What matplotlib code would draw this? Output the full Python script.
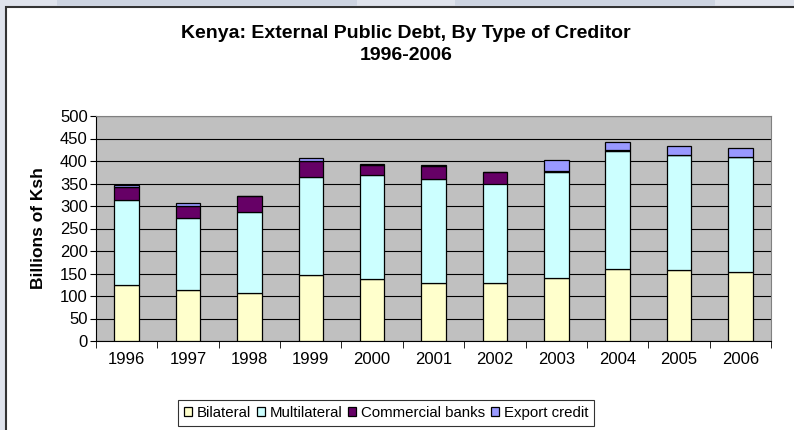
import matplotlib
matplotlib.use("Agg")
import matplotlib.pyplot as plt
import numpy as np
from matplotlib.patches import Rectangle

plt.rcParams['font.family'] = ['Liberation Sans', 'DejaVu Sans']

years = ["1996", "1997", "1998", "1999", "2000", "2001",
         "2002", "2003", "2004", "2005", "2006"]
bilateral = [125, 114, 107, 146, 137, 130, 128, 140, 160, 157, 154]
multilateral = [188, 160, 179, 219, 231, 229, 222, 235, 262, 256, 256]
commercial = [30, 26, 36, 35, 24, 31, 25, 2, 3, 0, 0]
export_credit = [3, 7, 0, 7, 1, 2, 0, 26, 17, 21, 20]

series = [("Bilateral", bilateral, "#ffffcc"),
          ("Multilateral", multilateral, "#ccffff"),
          ("Commercial banks", commercial, "#660066"),
          ("Export credit", export_credit, "#9999ff")]

fig = plt.figure(figsize=(7.94, 4.30), dpi=100)
fig.patch.set_facecolor("#dfe3ec")

# white chart area with dark frame (runs off the right and bottom edges)
fig.patches.append(Rectangle((6 / 794, -0.05), 1.1, 1 - 7 / 430 + 0.05,
                             transform=fig.transFigure, facecolor="white",
                             edgecolor="#333333", linewidth=1.5, zorder=-2))
for x0, w in [(57, 300), (455, 260)]:
    fig.patches.append(Rectangle((x0 / 794, 1 - 6 / 430), w / 794, 6 / 430,
                                 transform=fig.transFigure, facecolor="#cdd4e1",
                                 edgecolor="none", zorder=-2))

ax = fig.add_axes([96 / 794, 1 - 341 / 430, 675 / 794, 225 / 430])
ax.set_facecolor("#c0c0c0")

x = np.arange(len(years))
bottom = np.zeros(len(years))
handles = []
for name, vals, color in series:
    vals = np.array(vals, dtype=float)
    b = ax.bar(x, vals, width=0.4, bottom=bottom, color=color,
               edgecolor="black", linewidth=0.9, label=name, zorder=3)
    handles.append(b)
    bottom += vals

ax.set_xlim(-0.5, len(years) - 0.5)
ax.set_ylim(0, 500)
ax.set_yticks(np.arange(0, 501, 50))
ax.yaxis.grid(True, color="black", linewidth=0.8, zorder=1)
ax.set_axisbelow(True)

ax.set_xticks(x)
ax.set_xticklabels(years)
ax.set_xticks(np.arange(-0.5, len(years), 1), minor=True)
ax.tick_params(axis="x", which="major", length=0, pad=8, labelsize=12)
ax.tick_params(axis="x", which="minor", length=5, direction="out", color="black")
ax.tick_params(axis="y", length=4, direction="out", labelsize=12, pad=2)

for side in ["top", "right"]:
    ax.spines[side].set_color("#808080")
ax.spines["left"].set_color("black")
ax.spines["bottom"].set_color("black")

ax.set_ylabel("Billions of Ksh", fontsize=12.5, fontweight="bold", labelpad=10)

fig.text(406 / 794, 1 - 34 / 430, "Kenya: External Public Debt, By Type of Creditor",
         ha="center", va="center", fontsize=14, fontweight="bold")
fig.text(406 / 794, 1 - 55 / 430, "1996-2006",
         ha="center", va="center", fontsize=14, fontweight="bold")

leg = fig.legend(handles=handles, loc="center", bbox_to_anchor=(386 / 794, 1 - 413 / 430),
                 ncol=4, frameon=True, fancybox=False, fontsize=10.8,
                 handlelength=0.55, handleheight=0.55, handletextpad=0.3,
                 columnspacing=0.4, borderpad=0.4, borderaxespad=0)
leg.get_frame().set_edgecolor("black")
leg.get_frame().set_linewidth(0.8)

fig.savefig("out.png", dpi=100, facecolor=fig.get_facecolor())
